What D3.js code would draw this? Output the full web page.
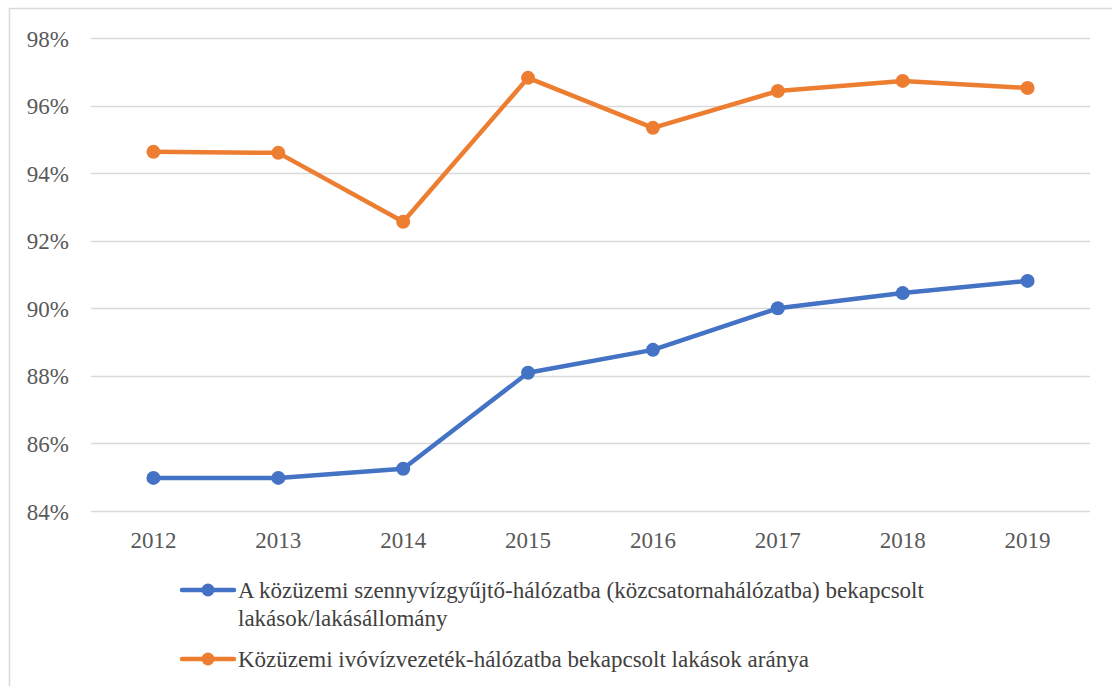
<!DOCTYPE html>
<html><head><meta charset="utf-8">
<script src="https://cdn.jsdelivr.net/npm/d3@7"></script>
</head><body style="margin:0"><svg id="c" width="1112" height="686" style="display:block"></svg>
<script>
const years = ["2012","2013","2014","2015","2016","2017","2018","2019"];
const sewerValues = [84.98, 84.98, 85.25, 88.09, 88.77, 90.0, 90.45, 90.81];
const waterValues = [94.63, 94.60, 92.56, 96.82, 95.34, 96.43, 96.73, 96.52];
const yTicks = [84, 86, 88, 90, 92, 94, 96, 98];
const seriesNames = ["A közüzemi szennyvízgyűjtő-hálózatba (közcsatornahálózatba) bekapcsolt", "lakások/lakásállomány"];
const seriesName2 = "Közüzemi ivóvízvezeték-hálózatba bekapcsolt lakások aránya";
const colors = ["#4472C4", "#ED7D31"];
const FONT = '"Liberation Serif", "Times New Roman", Tinos, serif';

const svg = d3.select("#c").style("font-family", FONT, "important");
svg.append("rect").attr("x",9.5).attr("y",8.5).attr("width",1200).attr("height",800)
  .attr("fill","#fff").attr("stroke","#d9d9d9").attr("stroke-width",1.5);

const x = d3.scaleBand().domain(years).range([91, 1090]);
const y = d3.scaleLinear().domain([84, 98]).range([511, 38]);

const grid = svg.append("g");
grid.selectAll("line").data(yTicks).join("line")
  .attr("x1", 91).attr("x2", 1090)
  .attr("y1", d => Math.round(y(d))+0.5).attr("y2", d => Math.round(y(d))+0.5)
  .attr("stroke", "#d9d9d9").attr("stroke-width", 1.5);

const yAxis = svg.append("g").attr("transform","translate(69,0)")
  .call(d3.axisLeft(y).tickValues(yTicks).tickFormat(d => d + "%").tickSize(0).tickPadding(0));
yAxis.select(".domain").remove();
yAxis.selectAll("text").style("font-family", FONT, "important").style("font-size", "23px").attr("fill", "#595959").attr("dy","0.35em");

const xAxis = svg.append("g").attr("transform","translate(0,548)")
  .call(d3.axisBottom(x).tickSize(0).tickPadding(0));
xAxis.select(".domain").remove();
xAxis.selectAll("text").style("font-family", FONT, "important").style("font-size", "23px").attr("fill", "#595959").attr("dy", 0);

const line = d3.line().x((d,i) => x(years[i]) + x.bandwidth()/2).y(d => y(d));
[sewerValues, waterValues].forEach((vals, k) => {
  const g = svg.append("g");
  g.append("path").attr("d", line(vals)).attr("fill","none").attr("stroke", colors[k])
    .attr("stroke-width", 4.5).attr("stroke-linejoin","round");
  g.selectAll("circle").data(vals).join("circle")
    .attr("cx", (d,i) => x(years[i]) + x.bandwidth()/2).attr("cy", d => y(d))
    .attr("r", 7).attr("fill", colors[k]);
});

// legend
const leg = [[590, colors[0]], [659, colors[1]]];
leg.forEach(([ly, c]) => {
  svg.append("line").attr("x1",182).attr("x2",234).attr("y1",ly).attr("y2",ly)
    .attr("stroke",c).attr("stroke-width",4.5).attr("stroke-linecap","round");
  svg.append("circle").attr("cx",208).attr("cy",ly).attr("r",6.5).attr("fill",c);
});
const lt = (yy, t) => svg.append("text").attr("x",238).attr("y",yy)
  .style("font-family", FONT, "important").style("font-size","23px").attr("fill","#404040").text(t);
lt(598, seriesNames[0]);
lt(626, seriesNames[1]);
lt(667, seriesName2);
</script></body></html>
